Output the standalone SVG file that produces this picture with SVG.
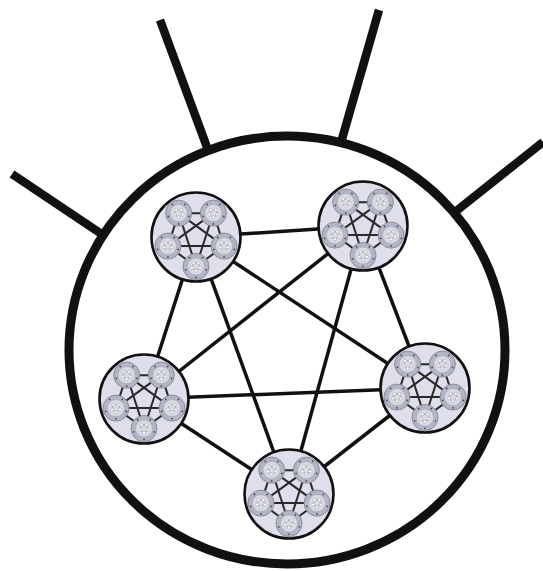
<svg xmlns="http://www.w3.org/2000/svg" xmlns:xlink="http://www.w3.org/1999/xlink" width="543" height="571" viewBox="0 0 543 571">
<style>
.outer{fill:none;stroke:#111;stroke-width:9}
.spoke{stroke:#111;stroke-width:8.5;stroke-linecap:butt}
.edge{stroke:#111;stroke-width:3.5}
.node{fill:#dedfeb;stroke:#111;stroke-width:2.6}
.iedge{stroke:#2a2a2a;stroke-width:2}
.sub{fill:#b3b5c5;stroke:#8a8c9c;stroke-width:1}
.subin{fill:#d9dae4;stroke:#a0a2b2;stroke-width:0.6}
.dot{fill:#4a4a55}
.tl{stroke:#7a7a85;stroke-width:0.5}
.wc{fill:#fff;stroke:#9a9aa5;stroke-width:0.5}
</style>
<defs>
<g id="sub">
<circle r="13" class="sub"/>
<circle r="8.6" class="subin"/>
<circle cx="0" cy="10.8" r="0.9" class="dot"/>
<circle cx="-10.27" cy="3.34" r="0.9" class="dot"/>
<circle cx="-6.35" cy="-8.74" r="0.9" class="dot"/>
<circle cx="6.35" cy="-8.74" r="0.9" class="dot"/>
<circle cx="10.27" cy="3.34" r="0.9" class="dot"/>
<polygon points="0,4.2 -3.99,1.3 -2.47,-3.4 2.47,-3.4 3.99,1.3" fill="none" class="tl"/>
<circle cx="0" cy="4.2" r="1.5" class="wc"/>
<circle cx="-3.99" cy="1.3" r="1.5" class="wc"/>
<circle cx="-2.47" cy="-3.4" r="1.5" class="wc"/>
<circle cx="2.47" cy="-3.4" r="1.5" class="wc"/>
<circle cx="3.99" cy="1.3" r="1.5" class="wc"/>
</g>
<g id="cluster">
<circle r="44.5" class="node"/>
<g class="iedge">
<line x1="0" y1="29.5" x2="-28.06" y2="9.12"/>
<line x1="0" y1="29.5" x2="-17.34" y2="-23.87"/>
<line x1="0" y1="29.5" x2="17.34" y2="-23.87"/>
<line x1="0" y1="29.5" x2="28.06" y2="9.12"/>
<line x1="-28.06" y1="9.12" x2="-17.34" y2="-23.87"/>
<line x1="-28.06" y1="9.12" x2="17.34" y2="-23.87"/>
<line x1="-28.06" y1="9.12" x2="28.06" y2="9.12"/>
<line x1="-17.34" y1="-23.87" x2="17.34" y2="-23.87"/>
<line x1="-17.34" y1="-23.87" x2="28.06" y2="9.12"/>
<line x1="17.34" y1="-23.87" x2="28.06" y2="9.12"/>
</g>
<use xlink:href="#sub" href="#sub" x="0" y="29.5"/>
<use xlink:href="#sub" href="#sub" x="-28.06" y="9.12"/>
<use xlink:href="#sub" href="#sub" x="-17.34" y="-23.87"/>
<use xlink:href="#sub" href="#sub" x="17.34" y="-23.87"/>
<use xlink:href="#sub" href="#sub" x="28.06" y="9.12"/>
</g>
</defs>
<rect width="543" height="571" fill="#fff"/>
<g id="outer">
<line class="spoke" x1="12" y1="174" x2="106" y2="237"/>
<line class="spoke" x1="160" y1="20" x2="208" y2="150"/>
<line class="spoke" x1="379" y1="10" x2="340" y2="146"/>
<line class="spoke" x1="543" y1="142" x2="455" y2="212"/>
<ellipse class="outer" cx="287" cy="350" rx="218" ry="214"/>
</g>
<g id="connectors" class="edge">
<line x1="196" y1="237" x2="363" y2="226"/>
<line x1="196" y1="237" x2="144" y2="399"/>
<line x1="196" y1="237" x2="425" y2="388"/>
<line x1="196" y1="237" x2="289" y2="494"/>
<line x1="363" y1="226" x2="144" y2="399"/>
<line x1="363" y1="226" x2="425" y2="388"/>
<line x1="363" y1="226" x2="289" y2="494"/>
<line x1="144" y1="399" x2="425" y2="388"/>
<line x1="144" y1="399" x2="289" y2="494"/>
<line x1="425" y1="388" x2="289" y2="494"/>
</g>
<g id="node-top-left" transform="translate(196,237)"><use xlink:href="#cluster" href="#cluster"/></g>
<g id="node-top-right" transform="translate(363,226)"><use xlink:href="#cluster" href="#cluster"/></g>
<g id="node-right" transform="translate(425,388)"><use xlink:href="#cluster" href="#cluster"/></g>
<g id="node-bottom" transform="translate(289,494)"><use xlink:href="#cluster" href="#cluster"/></g>
<g id="node-left" transform="translate(144,399)"><use xlink:href="#cluster" href="#cluster"/></g>
</svg>
